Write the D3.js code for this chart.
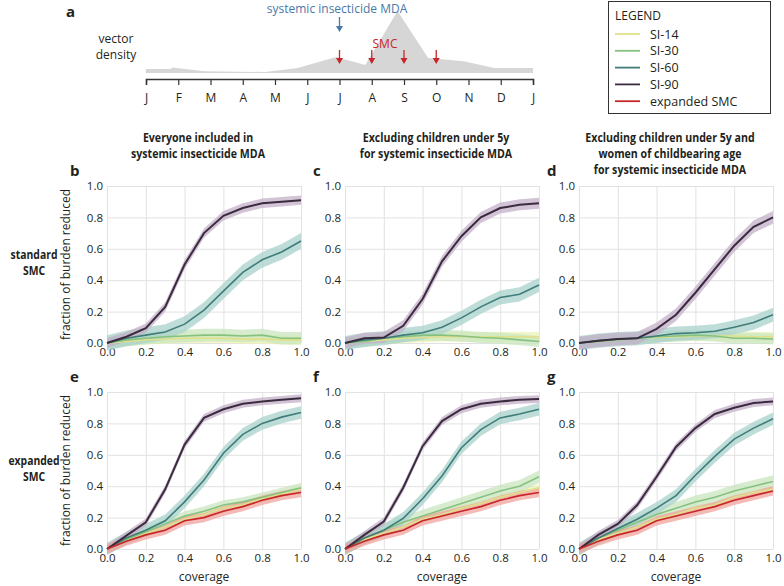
<!DOCTYPE html>
<html lang="en">
<head>
<meta charset="UTF-8">
<title>systemic insecticide MDA</title>
<style>
  * { margin: 0; padding: 0; }
  html, body { overflow: hidden; background: #fff; }
  text { font-family: "Open Sans", "Noto Sans", sans-serif; fill: #231f20; }
</style>
</head>
<body>
<div id="chart"></div>
<script src="https://cdn.jsdelivr.net/npm/d3@7"></script>
<script>
// ---- panel a: seasonal vector density ----
const monthLabels = ['J', 'F', 'M', 'A', 'M', 'J', 'J', 'A', 'S', 'O', 'N', 'D', 'J']
const densityMonth = [0, 0.75, 0.82, 1.8, 3.7, 4.7, 5.9, 6.8, 7.8, 8.75, 9.85, 10.8, 12]
const densityValue = [0.065, 0.065, 0.09, 0.03, 0.016, 0.08, 0.26, 0.13, 1.0, 0.24, 0.19, 0.08, 0.08]
const mdaMonth = [6]
const smcMonths = [6, 7, 8, 9]

// ---- panels b-g ----
const coverage = [0, 0.1, 0.2, 0.3, 0.4, 0.5, 0.6, 0.7, 0.8, 0.9, 1.0]
const seriesNames = ['SI-14', 'SI-30', 'SI-60', 'SI-90', 'expanded SMC']

// b: everyone, standard SMC
const bSI14 = [0, 0.01, 0.02, 0.025, 0.03, 0.03, 0.03, 0.025, 0.025, 0.02, 0.02]
const bSI30 = [0, 0.02, 0.03, 0.04, 0.045, 0.05, 0.05, 0.045, 0.05, 0.03, 0.03]
const bSI60 = [0, 0.03, 0.05, 0.07, 0.12, 0.21, 0.33, 0.45, 0.53, 0.58, 0.65]
const bSI90 = [0, 0.04, 0.095, 0.23, 0.5, 0.7, 0.81, 0.86, 0.89, 0.9, 0.91]
const bBand = [0.03, 0.04, 0.05, 0.03]

// c: excluding children under 5y, standard SMC
const cSI14 = [0, 0.01, 0.02, 0.03, 0.035, 0.04, 0.04, 0.04, 0.04, 0.04, 0.04]
const cSI30 = [0, 0.01, 0.03, 0.04, 0.05, 0.05, 0.045, 0.035, 0.03, 0.02, 0.01]
const cSI60 = [0, 0.02, 0.03, 0.05, 0.065, 0.1, 0.16, 0.23, 0.29, 0.31, 0.37]
const cSI90 = [0, 0.03, 0.035, 0.11, 0.28, 0.52, 0.68, 0.8, 0.86, 0.88, 0.89]
const cBand = [0.03, 0.035, 0.045, 0.035]

// d: excluding children under 5y and women of childbearing age, standard SMC
const dSI14 = [0, 0.01, 0.02, 0.03, 0.035, 0.04, 0.045, 0.045, 0.045, 0.04, 0.04]
const dSI30 = [0, 0.01, 0.02, 0.03, 0.04, 0.045, 0.05, 0.045, 0.03, 0.03, 0.025]
const dSI60 = [0, 0.015, 0.025, 0.03, 0.045, 0.06, 0.065, 0.075, 0.1, 0.13, 0.18]
const dSI90 = [0, 0.015, 0.025, 0.03, 0.09, 0.18, 0.32, 0.47, 0.62, 0.74, 0.8]
const dBand = [0.03, 0.035, 0.045, 0.04]

// e: everyone, expanded SMC
const eSI14 = [0, 0.055, 0.1, 0.14, 0.19, 0.22, 0.26, 0.28, 0.32, 0.35, 0.38]
const eSI30 = [0, 0.06, 0.11, 0.16, 0.21, 0.24, 0.28, 0.3, 0.33, 0.36, 0.39]
const eSI60 = [0, 0.07, 0.12, 0.18, 0.3, 0.44, 0.61, 0.73, 0.8, 0.84, 0.87]
const eSI90 = [0, 0.085, 0.17, 0.38, 0.665, 0.835, 0.89, 0.925, 0.94, 0.95, 0.96]
const eSMC = [0, 0.05, 0.09, 0.12, 0.18, 0.2, 0.24, 0.27, 0.31, 0.34, 0.36]
const eBand = [0.02, 0.03, 0.04, 0.025, 0.03]

// f: excluding children under 5y, expanded SMC
const fSI14 = [0, 0.06, 0.1, 0.14, 0.19, 0.22, 0.26, 0.29, 0.33, 0.36, 0.39]
const fSI30 = [0, 0.07, 0.12, 0.17, 0.21, 0.25, 0.29, 0.33, 0.37, 0.4, 0.46]
const fSI60 = [0, 0.07, 0.12, 0.195, 0.32, 0.465, 0.645, 0.76, 0.835, 0.86, 0.89]
const fSI90 = [0, 0.09, 0.175, 0.39, 0.655, 0.815, 0.89, 0.925, 0.94, 0.95, 0.955]
const fSMC = [0, 0.05, 0.09, 0.12, 0.18, 0.21, 0.24, 0.27, 0.31, 0.34, 0.36]
const fBand = [0.02, 0.04, 0.04, 0.025, 0.03]

// g: excluding children under 5y and women of childbearing age, expanded SMC
const gSI14 = [0, 0.06, 0.1, 0.14, 0.19, 0.22, 0.26, 0.28, 0.33, 0.36, 0.38]
const gSI30 = [0, 0.07, 0.12, 0.17, 0.22, 0.26, 0.3, 0.33, 0.37, 0.4, 0.43]
const gSI60 = [0, 0.07, 0.13, 0.19, 0.26, 0.34, 0.47, 0.59, 0.7, 0.77, 0.83]
const gSI90 = [0, 0.09, 0.16, 0.28, 0.46, 0.65, 0.77, 0.86, 0.9, 0.93, 0.94]
const gSMC = [0, 0.05, 0.09, 0.12, 0.18, 0.21, 0.24, 0.27, 0.31, 0.34, 0.37]
const gBand = [0.02, 0.04, 0.04, 0.025, 0.03]

const columnTitles = [
  ['Everyone included in', 'systemic insecticide MDA'],
  ['Excluding children under 5y', 'for systemic insecticide MDA'],
  ['Excluding children under 5y and', 'women of childbearing age', 'for systemic insecticide MDA']
]
const rowTitles = [['standard', 'SMC'], ['expanded', 'SMC']]
const yTicks = [0, 0.2, 0.4, 0.6, 0.8, 1.0]

const lineColors = ['#dfe08a', '#86c27f', '#3f7d79', '#3b2b3e', '#c8262a']
const bandColors = ['#eef1b4', '#c9e6bf', '#a8d2cc', '#c3b0c8', '#f0a39c']

function drawChart() {
  const width = 784
  const height = 586
  const svg = d3.select('#chart')
    .append('svg')
    .attr('width', width)
    .attr('height', height)
    .style('background', '#fff')

  // ---------- panel a ----------
  const xm = d3.scaleLinear().domain([0, 12]).range([146, 533])
  const yd = d3.scaleLinear().domain([0, 1]).range([73, 11])

  svg.append('text').attr('x', 66).attr('y', 17)
    .style('font-size', '15px').style('font-weight', 700).text('a')
  svg.append('text').attr('x', 116).attr('y', 43).attr('text-anchor', 'middle')
    .style('font-size', '12px').text('vector')
  svg.append('text').attr('x', 116).attr('y', 59).attr('text-anchor', 'middle')
    .style('font-size', '12px').text('density')

  const densityPts = densityMonth.map((m, i) => [m, densityValue[i]])
  svg.append('path')
    .datum(densityPts)
    .attr('fill', '#d6d6d6')
    .attr('d', d3.area().x(d => xm(d[0])).y0(yd(0)).y1(d => yd(d[1])))

  const monthAxis = svg.append('g')
    .attr('transform', 'translate(0,79)')
    .call(d3.axisBottom(xm).tickValues(d3.range(13)).tickSize(6).tickPadding(8)
      .tickFormat(i => monthLabels[i]))
  monthAxis.select('.domain').attr('stroke', '#333').attr('stroke-width', 1.5)
  monthAxis.selectAll('.tick line').attr('stroke', '#333').attr('stroke-width', 1.2)
  monthAxis.selectAll('.tick text')
    .style('font-family', '"Open Sans", sans-serif').style('font-size', '12px').attr('fill', '#231f20')

  const arrow = (g, x, y1, y2, color) => {
    g.append('line').attr('x1', x).attr('x2', x).attr('y1', y1).attr('y2', y2 - 4)
      .attr('stroke', color).attr('stroke-width', 1.3)
    g.append('path').attr('d', `M${x - 3.5},${y2 - 6}L${x + 3.5},${y2 - 6}L${x},${y2}Z`).attr('fill', color)
  }
  svg.append('text').attr('x', 337).attr('y', 13).attr('text-anchor', 'middle')
    .style('font-size', '12px').style('fill', '#4a78a8').text('systemic insecticide MDA')
  mdaMonth.forEach(m => arrow(svg, xm(m), 17, 32, '#4a78a8'))
  svg.append('text').attr('x', 385).attr('y', 48).attr('text-anchor', 'middle')
    .style('font-size', '12px').style('fill', '#c8262a').text('SMC')
  smcMonths.forEach(m => arrow(svg, xm(m), 50, 64, '#c8262a'))

  // ---------- legend ----------
  const legend = svg.append('g')
  legend.append('rect').attr('x', 608.5).attr('y', 1.5).attr('width', 162).attr('height', 112)
    .attr('fill', '#fff').attr('stroke', '#333').attr('stroke-width', 1)
  legend.append('text').attr('x', 615).attr('y', 20).style('font-size', '12px').text('LEGEND')
  seriesNames.forEach((name, i) => {
    const ly = 34 + i * 16.8
    legend.append('line').attr('x1', 615).attr('x2', 640).attr('y1', ly).attr('y2', ly)
      .attr('stroke', lineColors[i]).attr('stroke-width', 1.8)
    legend.append('text').attr('x', 650).attr('y', ly + 4.5).style('font-size', '12.5px').text(name)
  })

  // ---------- panels b-g ----------
  const W = 194
  const H = 157
  const colX = [107, 345, 579]
  const rowY = [186, 392]
  const x = d3.scaleLinear().domain([0, 1]).range([0, W])
  const y = d3.scaleLinear().domain([0, 1]).range([H, 0])

  const panels = [
    { id: 'b', col: 0, row: 0, series: [bSI14, bSI30, bSI60, bSI90], band: bBand },
    { id: 'c', col: 1, row: 0, series: [cSI14, cSI30, cSI60, cSI90], band: cBand },
    { id: 'd', col: 2, row: 0, series: [dSI14, dSI30, dSI60, dSI90], band: dBand },
    { id: 'e', col: 0, row: 1, series: [eSI14, eSI30, eSI60, eSI90, eSMC], band: eBand },
    { id: 'f', col: 1, row: 1, series: [fSI14, fSI30, fSI60, fSI90, fSMC], band: fBand },
    { id: 'g', col: 2, row: 1, series: [gSI14, gSI30, gSI60, gSI90, gSMC], band: gBand }
  ]

  // column titles (condensed bold look)
  columnTitles.forEach((lines, c) => {
    lines.forEach((t, k) => {
      svg.append('text')
        .attr('transform', `translate(${colX[c] + W / 2 - 6},${142 + k * 16}) scale(0.9,1)`)
        .attr('text-anchor', 'middle')
        .style('font-size', '11.8px').style('font-weight', 700)
        .text(t)
    })
  })

  // row titles
  rowTitles.forEach((lines, r) => {
    lines.forEach((t, k) => {
      svg.append('text')
        .attr('transform', `translate(34,${rowY[r] + 73 + k * 16}) scale(0.88,1)`)
        .attr('text-anchor', 'middle')
        .style('font-size', '11.8px').style('font-weight', 700)
        .text(t)
    })
  })

  const line = d3.line().x((d, i) => x(coverage[i])).y(d => y(d))

  panels.forEach(p => {
    const g = svg.append('g').attr('transform', `translate(${colX[p.col]},${rowY[p.row]})`)

    // grid
    g.append('g').attr('class', 'grid')
      .call(d3.axisLeft(y).tickValues(yTicks).tickSize(-W).tickFormat(''))
      .call(a => a.select('.domain').remove())
    g.append('g').attr('class', 'grid')
      .attr('transform', `translate(0,${H})`)
      .call(d3.axisBottom(x).tickValues(yTicks).tickSize(-H).tickFormat(''))
      .call(a => a.select('.domain').remove())
    g.selectAll('.grid .tick line').attr('stroke', '#e2e2e2').attr('stroke-width', 1)

    // tick labels
    const ya = g.append('g')
      .call(d3.axisLeft(y).tickValues(yTicks).tickSize(0).tickPadding(4).tickFormat(d3.format('.1f')))
    ya.select('.domain').remove()
    const xa = g.append('g').attr('transform', `translate(0,${H})`)
      .call(d3.axisBottom(x).tickValues(yTicks).tickSize(0).tickPadding(5).tickFormat(d3.format('.1f')))
    xa.select('.domain').remove()
    g.selectAll('.tick text')
      .style('font-family', '"Open Sans", sans-serif').style('font-size', '11.5px').attr('fill', '#231f20')

    // bands, then lines
    p.series.forEach((vals, s) => {
      const hw = p.band[s]
      g.append('path')
        .datum(vals)
        .attr('fill', bandColors[s])
        .attr('fill-opacity', 0.75)
        .attr('d', d3.area()
          .x((d, i) => x(coverage[i]))
          .y0(d => y(d - hw))
          .y1(d => y(d + hw)))
    })
    p.series.forEach((vals, s) => {
      g.append('path')
        .datum(vals)
        .attr('fill', 'none')
        .attr('stroke', lineColors[s])
        .attr('stroke-width', s === 3 ? 2 : 1.6)
        .attr('d', line)
    })

    // panel letter
    svg.append('text')
      .attr('x', colX[p.col] - (p.col === 0 ? 37 : 32))
      .attr('y', rowY[p.row] - 10)
      .style('font-size', '15px').style('font-weight', 700)
      .text(p.id)

    if (p.col === 0) {
      svg.append('text')
        .attr('transform', `translate(${colX[0] - 37},${rowY[p.row] + H / 2}) rotate(-90)`)
        .attr('text-anchor', 'middle')
        .style('font-size', '12px')
        .text('fraction of burden reduced')
    }
    if (p.row === 1) {
      svg.append('text')
        .attr('x', colX[p.col] + W / 2).attr('y', rowY[1] + H + 32)
        .attr('text-anchor', 'middle')
        .style('font-size', '12px')
        .text('coverage')
    }
  })
}

drawChart()
</script>
</body>
</html>
